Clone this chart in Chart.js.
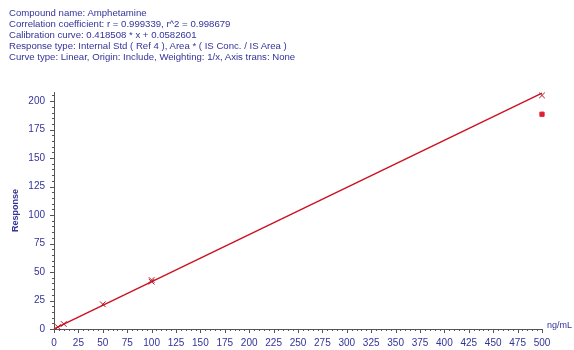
<!DOCTYPE html>
<html>
<head>
<meta charset="utf-8">
<script src="https://cdn.jsdelivr.net/npm/chart.js@4/dist/chart.umd.min.js"></script>
<style>
    body { margin: 0; background: #fff; }
    #wrap { position: relative; width: 574px; height: 350px; }
    #info {
        position: absolute; left: 9px; top: 7px;
        font: 9.6px "Liberation Sans", Arial, sans-serif;
        color: #33339a; line-height: 11px; white-space: pre;
    }
    canvas { position: absolute; left: 0; top: 0; }
</style>
</head>
<body>
<div id="wrap">
    <canvas id="grafico1" width="574" height="350"></canvas>
    <div id="info">Compound name: Amphetamine
Correlation coefficient: r = 0.999339, r^2 = 0.998679
Calibration curve: 0.418508 * x + 0.0582601
Response type: Internal Std ( Ref 4 ), Area * ( IS Conc. / IS Area )
Curve type: Linear, Origin: Include, Weighting: 1/x, Axis trans: None</div>
</div>
<script>
// calibration standards (ng/mL, response)
let concentracao = [4, 10, 50, 100, 100, 500]
let resposta = [1.7, 4.4, 21.7, 41.5, 43, 205]
// excluded point
let excluidoX = [500]
let excluidoY = [188.5]
// fitted curve ends
let curvaX = [0, 500]
let curvaY = [0.06, 207]

let azul = '#33339a'

let ticksMenores = {
    id: 'ticksMenores',
    afterDraw(chart) {
        let c = chart.ctx
        let x = chart.scales.x
        let y = chart.scales.y
        c.save()
        c.strokeStyle = '#555'
        c.lineWidth = 1
        c.beginPath()
        for (let v = 0; v <= 500; v += 5) {
            let px = Math.round(x.getPixelForValue(v)) + 0.5
            let len = v % 25 === 0 ? 4 : 2
            c.moveTo(px, x.top)
            c.lineTo(px, x.top + len)
        }
        for (let v = 0; v <= 205; v += 5) {
            let py = Math.round(y.getPixelForValue(v)) + 0.5
            let len = v % 25 === 0 ? 4 : 2
            c.moveTo(y.right, py)
            c.lineTo(y.right - len, py)
        }
        c.stroke()
        c.fillStyle = azul
        c.font = '9px "Liberation Sans", Arial, sans-serif'
        c.textBaseline = 'middle'
        c.fillText('ng/mL', x.right + 5, x.top - 3)
        c.restore()
    }
}

let ctx = document.getElementById('grafico1').getContext('2d')

let grafico = new Chart(ctx, {
    type: 'scatter',
    data: {
        datasets: [{
            type: 'line',
            data: curvaX.map((v, i) => ({x: v, y: curvaY[i]})),
            borderColor: '#cc1020',
            borderWidth: 1.4,
            pointRadius: 0,
            fill: false,
            clip: false
        }, {
            data: concentracao.map((v, i) => ({x: v, y: resposta[i]})),
            pointStyle: 'crossRot',
            pointRadius: 4,
            borderColor: '#b01828',
            borderWidth: 1,
            backgroundColor: '#b01828',
            clip: false
        }, {
            data: excluidoX.map((v, i) => ({x: v, y: excluidoY[i]})),
            pointStyle: 'rect',
            pointRadius: 3,
            borderColor: '#e02030',
            backgroundColor: '#e02030',
            clip: false
        }]
    },
    plugins: [ticksMenores],
    options: {
        responsive: false,
        animation: false,
        layout: {
            padding: {top: 92, right: 32, left: 0, bottom: 0}
        },
        plugins: {
            legend: {display: false},
            tooltip: {enabled: false}
        },
        scales: {
            x: {
                type: 'linear',
                min: 0,
                max: 500,
                afterFit: s => { s.height = 21 },
                grid: {display: true, drawOnChartArea: false, drawTicks: false},
                border: {color: '#555'},
                ticks: {
                    stepSize: 25,
                    padding: 8,
                    maxRotation: 0,
                    autoSkip: false,
                    color: azul,
                    font: {family: '"Liberation Sans", Arial, sans-serif', size: 10}
                }
            },
            y: {
                min: 0,
                max: 208,
                afterFit: s => { s.width = 54 },
                grid: {display: true, drawOnChartArea: false, drawTicks: false},
                border: {color: '#555'},
                ticks: {
                    stepSize: 25,
                    padding: 9,
                    includeBounds: false,
                    color: azul,
                    font: {family: '"Liberation Sans", Arial, sans-serif', size: 10}
                },
                title: {
                    display: true,
                    text: 'Response',
                    color: azul,
                    padding: {top: 10, bottom: 0},
                    font: {family: '"Liberation Sans", Arial, sans-serif', size: 9, weight: 'bold'}
                }
            }
        }
    }
})
</script>
</body>
</html>
